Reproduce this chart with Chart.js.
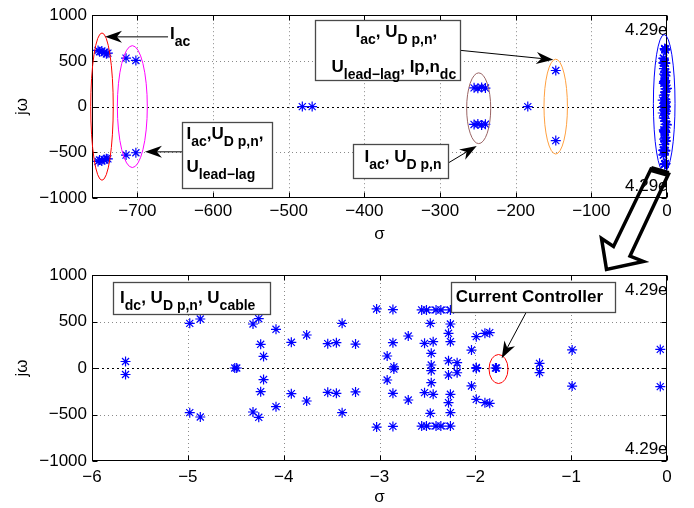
<!DOCTYPE html>
<html><head><meta charset="utf-8">
<script src="https://cdn.jsdelivr.net/npm/chart.js@4/dist/chart.umd.min.js"></script>
<style>body{margin:0;background:#fff} canvas{position:absolute;left:0}</style>
</head><body>
<div style="position:relative;width:694px;height:508px;">
<canvas id="cTop" width="694" height="254" style="top:0"></canvas>
<canvas id="cBot" width="694" height="254" style="top:254px"></canvas>
<canvas id="ov" width="694" height="508" style="top:0;pointer-events:none"></canvas>
</div>
<script>
const FONT = '"Liberation Sans", Arial, Helvetica, sans-serif';

// ---------------- data ----------------
const yTicks = [-1000, -500, 0, 500, 1000];
const xTicksTop = [-700, -600, -500, -400, -300, -200, -100, 0];
const xTicksBottom = [-6, -5, -4, -3, -2, -1, 0];

// poles far from the imaginary axis (full view only)
const farSigma = [-752, -750, -747, -744, -741, -739, -752, -750, -747, -744, -741, -739,
                  -715, -702, -715, -702,
                  -482, -469,
                  -255, -250, -245, -240, -255, -250, -245, -240,
                  -184,
                  -147, -147];
const farOmega = [615, 600, 608, 590, 578, 585, -600, -585, -595, -578, -570, -572,
                  530, 505, -530, -505,
                  0, 0,
                  205, 200, 210, 203, -195, -190, -200, -193,
                  0,
                  395, -372];

// poles close to the imaginary axis (zoomed view)
const nearSigma = [-5.65, -5.65, -4.98, -4.98, -4.87, -4.87, -4.51, -4.49, -4.32, -4.32,
                   -4.26, -4.26, -4.24, -4.24, -4.21, -4.21, -4.08, -4.08, -3.92, -3.92,
                   -3.76, -3.76, -3.54, -3.54, -3.45, -3.45, -3.39, -3.39, -3.25, -3.25,
                   -3.03, -3.03, -2.86, -2.86, -2.86, -2.86, -2.70, -2.70, -2.92, -2.92,
                   -2.85, -2.85, -2.56, -2.56, -2.51, -2.51, -2.41, -2.41, -2.36, -2.36,
                   -2.26, -2.26, -2.47, -2.47, -2.26, -2.26, -2.28, -2.28, -2.26, -2.26,
                   -2.53, -2.53, -2.44, -2.44, -2.46, -2.46, -2.46, -2.46, -2.28, -2.28,
                   -2.19, -2.19, -2.04, -2.04, -1.99, -1.99, -1.99, -1.99, -1.90, -1.90,
                   -1.85, -1.85, -1.79, -1.78, -1.33, -1.33, -0.99, -0.99, -0.07, -0.07];
const nearOmega = [70, -70, 480, -480, 527, -527, 0, 0, 473, -473,
                   530, -530, 255, -255, 124, -124, 416, -416, 276, -276,
                   355, -355, 262, -262, 272, -272, 480, -480, 257, -257,
                   635, -635, 628, -628, 272, -272, 344, -344, 129, -129,
                   12, -12, 624, -624, 624, -624, 624, -624, 624, -624,
                   624, -624, 480, -487, 473, -480, 373, -373, 283, -283,
                   265, -265, 283, -283, 158, -158, 32, -29, 78, -75,
                   57, -51, 193, -193, 5, -5, 337, -337, 373, -373,
                   380, -380, 0, 0, 50, -50, 194, -194, 200, -200];

// zeros (circles)
const zeroSigma = [-2.46, -2.31, -2.46, -2.31, -2.19, -1.33];
const zeroOmega = [624, 624, -624, -624, 0, 0];

const edgeLabel = '4.29e+003';

// --------------- helpers ---------------
const toPts = (xs, ys) => xs.map((v, i) => ({x: v, y: ys[i]}));
const fmt = v => (v < 0 ? '\u2212' + Math.abs(v) : String(v));

function parseRich(s) {
  const segs = []; const re = /_\{([^}]*)\}/g; let last = 0, m;
  while ((m = re.exec(s))) {
    if (m.index > last) segs.push({t: s.slice(last, m.index), sub: false});
    segs.push({t: m[1], sub: true}); last = re.lastIndex;
  }
  if (last < s.length) segs.push({t: s.slice(last), sub: false});
  return segs;
}
function drawRich(ctx, s, x, y, size) {
  let cx = x;
  ctx.textBaseline = 'alphabetic'; ctx.textAlign = 'left'; ctx.fillStyle = '#000';
  for (const g of parseRich(s)) {
    const fs = g.sub ? Math.round(size * 0.84) : size;
    ctx.font = `bold ${fs}px ${FONT}`;
    ctx.fillText(g.t, cx, y + (g.sub ? size * 0.45 : 0));
    cx += ctx.measureText(g.t).width;
  }
}
function arrow(ctx, x1, y1, x2, y2, len, wid) {
  const a = Math.atan2(y2 - y1, x2 - x1);
  const nx = x2 - Math.cos(a) * len * 0.7, ny = y2 - Math.sin(a) * len * 0.7;
  ctx.save();
  ctx.strokeStyle = '#000'; ctx.lineWidth = 1; ctx.setLineDash([]);
  ctx.beginPath(); ctx.moveTo(x1, y1); ctx.lineTo(nx, ny); ctx.stroke();
  ctx.translate(x2, y2); ctx.rotate(a);
  ctx.fillStyle = '#000';
  ctx.beginPath(); ctx.moveTo(0, 0); ctx.lineTo(-len, -wid / 2); ctx.lineTo(-len * 0.7, 0);
  ctx.lineTo(-len, wid / 2); ctx.closePath(); ctx.fill();
  ctx.restore();
}

function makePlugin(cfg) {
  return {
    id: 'annot_' + cfg.name,
    beforeDatasetsDraw(chart) {
      const {ctx, chartArea: a, scales: {x, y}} = chart;
      ctx.save(); ctx.lineWidth = 1;
      for (const v of cfg.xTicks) {
        const p = Math.round(x.getPixelForValue(v)) + 0.5;
        if (p < a.left + 2 || p > a.right - 2) continue;
        ctx.strokeStyle = '#8a8a8a'; ctx.setLineDash([1, 3]);
        ctx.beginPath(); ctx.moveTo(p, a.top); ctx.lineTo(p, a.bottom); ctx.stroke();
      }
      for (const v of yTicks) {
        const p = Math.round(y.getPixelForValue(v)) + 0.5;
        if (p < a.top + 2 || p > a.bottom - 2) continue;
        ctx.strokeStyle = v === 0 ? '#000' : '#8a8a8a'; ctx.setLineDash(v === 0 ? [2, 3] : [1, 3]);
        ctx.beginPath(); ctx.moveTo(a.left, p); ctx.lineTo(a.right, p); ctx.stroke();
      }
      ctx.restore();
    },
    afterDatasetsDraw(chart) {
      const {ctx, chartArea: a, scales: {x, y}} = chart;
      const X = v => x.getPixelForValue(v), Y = v => y.getPixelForValue(v);
      ctx.save();
      ctx.setLineDash([]);
      // frame + inward ticks
      ctx.strokeStyle = '#000'; ctx.lineWidth = 1;
      const L = Math.round(a.left) + 0.5, R = Math.round(a.right) - 0.5, T = Math.round(a.top) + 0.5, B = Math.round(a.bottom) - 0.5;
      ctx.strokeRect(L, T, R - L, B - T);
      ctx.beginPath();
      for (const v of cfg.xTicks) { const p = Math.round(X(v)) + 0.5; ctx.moveTo(p, B); ctx.lineTo(p, B - 5); ctx.moveTo(p, T); ctx.lineTo(p, T + 5); }
      for (const v of yTicks) { const p = Math.round(Y(v)) + 0.5; ctx.moveTo(L, p); ctx.lineTo(L + 5, p); ctx.moveTo(R, p); ctx.lineTo(R - 5, p); }
      ctx.stroke();
      // edge text (clipped)
      ctx.save();
      ctx.beginPath(); ctx.rect(a.left, a.top, a.right - a.left, a.bottom - a.top); ctx.clip();
      ctx.fillStyle = '#000'; ctx.font = `17px ${FONT}`; ctx.textAlign = 'left'; ctx.textBaseline = 'alphabetic';
      ctx.fillText(edgeLabel, a.right - 42, a.top + 20);
      ctx.fillText(edgeLabel, a.right - 42, a.bottom - 7);
      ctx.restore();
      // ellipses
      for (const e of cfg.ellipses) {
        const cx = X(e.cx), cy = Y(e.cy);
        const rx = Math.abs(X(e.cx + e.rx) - cx), ry = Math.abs(Y(e.cy + e.ry) - cy);
        ctx.strokeStyle = e.color; ctx.lineWidth = 1;
        ctx.beginPath(); ctx.ellipse(cx, cy, rx, ry, 0, 0, Math.PI * 2); ctx.stroke();
      }
      // arrows
      for (const r of cfg.arrows) arrow(ctx, X(r.x1), Y(r.y1), X(r.x2), Y(r.y2), 17, 12);
      // boxes
      for (const b of cfg.boxes) {
        const x0 = Math.round(X(b.x0)) + 0.5, y0 = Math.round(Y(b.y0)) + 0.5;
        const x1 = Math.round(X(b.x1)) + 0.5, y1 = Math.round(Y(b.y1)) + 0.5;
        ctx.fillStyle = '#fff'; ctx.fillRect(x0, y0, x1 - x0, y1 - y0);
        ctx.strokeStyle = '#4a4a4a'; ctx.lineWidth = 1.3; ctx.strokeRect(x0, y0, x1 - x0, y1 - y0);
        for (const ln of b.lines) drawRich(ctx, ln.t, x0 + ln.dx, y0 + ln.dy, 17);
      }
      for (const l of cfg.labels) drawRich(ctx, l.t, X(l.x), Y(l.y), 17);
      // axis titles
      ctx.fillStyle = '#000'; ctx.font = `17px ${FONT}`; ctx.textAlign = 'center'; ctx.textBaseline = 'middle';
      ctx.fillText('\u03c3', (a.left + a.right) / 2 - 0, cfg.sigmaY);
      ctx.save(); ctx.translate(22, (a.top + a.bottom) / 2); ctx.rotate(-Math.PI / 2);
      ctx.fillText('j\u03c9', 0, 0); ctx.restore();
      ctx.restore();
    }
  };
}

function makeChart(id, cfg) {
  return new Chart(document.getElementById(id), {
    type: 'scatter',
    data: {datasets: [
      {data: cfg.poles, pointStyle: 'star', pointRadius: 5, pointBorderColor: '#0000ff',
       pointBackgroundColor: '#0000ff', pointBorderWidth: 1.2, clip: false},
      {data: cfg.zeros, pointStyle: 'circle', pointRadius: 3, pointBorderColor: '#0000ff',
       pointBackgroundColor: 'rgba(0,0,0,0)', pointBorderWidth: 1, clip: false}
    ]},
    options: {
      responsive: false, animation: false, events: [],
      layout: {padding: {left: 0, top: cfg.padTop, right: 27, bottom: 0}},
      plugins: {legend: {display: false}, tooltip: {enabled: false}},
      scales: {
        x: {type: 'linear', min: cfg.xmin, max: 0,
            grid: {display: false, drawTicks: false}, border: {display: false},
            afterBuildTicks: s => { s.ticks = cfg.xTicks.map(v => ({value: v})); },
            afterFit: s => { s.height = cfg.xHeight; },
            ticks: {padding: cfg.xPad, maxRotation: 0, minRotation: 0, autoSkip: false, color: '#000',
                    font: {size: 17, family: FONT}, callback: v => fmt(v)}},
        y: {type: 'linear', min: -1000, max: 1000,
            grid: {display: false, drawTicks: false}, border: {display: false},
            afterBuildTicks: s => { s.ticks = yTicks.map(v => ({value: v})); },
            afterFit: s => { s.width = 92; },
            ticks: {padding: 5, autoSkip: false, color: '#000', font: {size: 17, family: FONT}, callback: v => fmt(v)}}
      }
    },
    plugins: [makePlugin(cfg)]
  });
}

const topCfg = {
  name: 'top', xmin: -760, xTicks: xTicksTop, padTop: 12, xHeight: 56, xPad: 3, sigmaY: 234,
  poles: toPts(farSigma, farOmega).concat(toPts(nearSigma, nearOmega)),
  zeros: toPts(zeroSigma, zeroOmega),
  ellipses: [
    {cx: -746.8, cy: 0, rx: 14.9, ry: 806, color: '#ff0000'},
    {cx: -706.7, cy: 0, rx: 19.8, ry: 667, color: '#ff00ff'},
    {cx: -248.9, cy: -18, rx: 15.9, ry: 387, color: '#9a6464'},
    {cx: -147.1, cy: 0, rx: 15.5, ry: 519, color: '#ffa040'},
    {cx: -3.7, cy: 35, rx: 14.3, ry: 753, color: '#0000ff'}
  ],
  arrows: [
    {x1: -659.5, y1: 763, x2: -742.8, y2: 763},
    {x1: -641, y1: -495, x2: -690, y2: -495},
    {x1: -273.6, y1: 616, x2: -150.3, y2: 513},
    {x1: -291.2, y1: -627, x2: -251.5, y2: -430}
  ],
  boxes: [
    {x0: -641, y0: -172, x1: -522, y1: -892,
     lines: [{t: 'I_{ac},U_{D p,n},', dx: 4, dy: 16}, {t: 'U_{lead\u2212lag}', dx: 4, dy: 49}]},
    {x0: -465.3, y0: 946, x1: -273.6, y1: 290,
     lines: [{t: 'I_{ac}, U_{D p,n},', dx: 40, dy: 16}, {t: 'U_{lead\u2212lag}, Ip,n_{dc}', dx: 16, dy: 51}]},
    {x0: -415, y0: -409, x1: -289.5, y1: -785,
     lines: [{t: 'I_{ac}, U_{D p,n}', dx: 11, dy: 17}]}
  ],
  labels: [{t: 'I_{ac}', x: -656.9, y: 742}]
};

const botCfg = {
  name: 'bot', xmin: -6, xTicks: xTicksBottom, padTop: 21, xHeight: 47, xPad: 6, sigmaY: 243,
  poles: toPts(nearSigma, nearOmega),
  zeros: toPts(zeroSigma, zeroOmega),
  ellipses: [{cx: -1.758, cy: -11, rx: 0.099, ry: 156, color: '#ff0000'}],
  arrows: [{x1: -1.429, y1: 677, x2: -1.725, y2: 104}],
  boxes: [
    {x0: -5.785, y0: 925, x1: -4.142, y1: 581,
     lines: [{t: 'I_{dc}, U_{D p,n}, U_{cable}', dx: 6.6, dy: 20}]},
    {x0: -2.257, y0: 928, x1: -0.542, y1: 605,
     lines: [{t: 'Current Controller', dx: 4.3, dy: 19.3}]}
  ],
  labels: []
};

makeChart('cTop', topCfg);
makeChart('cBot', botCfg);

// big hollow arrow linking the two views
const ov = document.getElementById('ov').getContext('2d');
const bigArrow = [[651, 169], [668.5, 174], [630, 256], [643.5, 261.5], [606.5, 269.5], [601.5, 238.5], [613.5, 246.5]];
ov.strokeStyle = '#000'; ov.lineWidth = 3.5; ov.lineJoin = 'miter';
ov.beginPath();
bigArrow.forEach((p, i) => (i ? ov.lineTo(p[0], p[1]) : ov.moveTo(p[0], p[1])));
ov.closePath(); ov.stroke();
ov.lineWidth = 6;
ov.beginPath(); ov.moveTo(651, 169); ov.lineTo(668.5, 174); ov.stroke();
</script>
</body></html>
